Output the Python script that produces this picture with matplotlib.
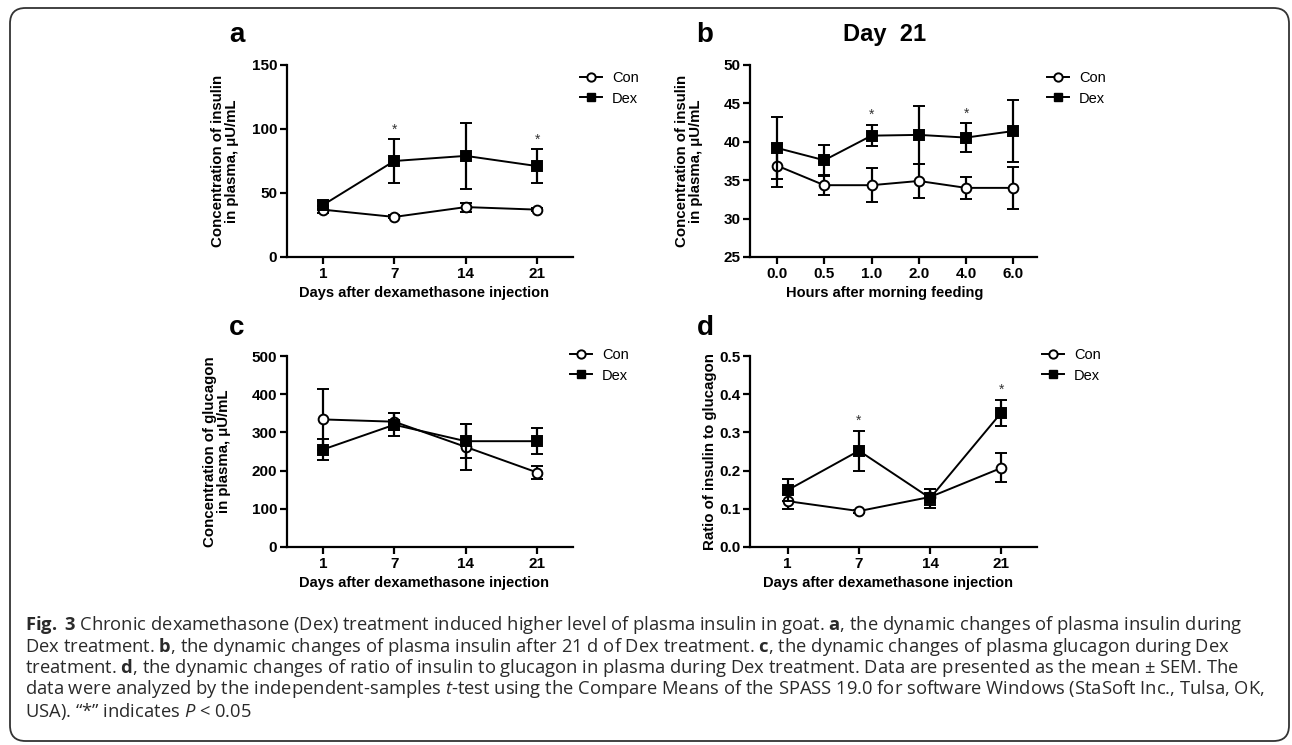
import matplotlib
matplotlib.use("Agg")
import matplotlib.pyplot as plt
from matplotlib.patches import FancyBboxPatch
from matplotlib.lines import Line2D
import numpy as np

plt.rcParams["font.family"] = ["Liberation Sans", "DejaVu Sans"]
plt.rcParams["mathtext.fontset"] = "custom"
plt.rcParams["mathtext.rm"] = "Open Sans"
plt.rcParams["mathtext.bf"] = "Open Sans:bold"
plt.rcParams["mathtext.it"] = "Open Sans:italic"

# ---- data ----
days = ["1", "7", "14", "21"]
hours = ["0.0", "0.5", "1.0", "2.0", "4.0", "6.0"]

ins_con = [37, 31.3, 39, 37]
ins_con_err = [2.5, 1.2, 3.5, 1.2]
ins_dex = [40.5, 75, 79, 71]
ins_dex_err = [3, 17, 26, 13]
ins_sig = [1, 3]

d21_con = [36.9, 34.35, 34.35, 34.9, 34.0, 34.0]
d21_con_err = [2.8, 1.3, 2.25, 2.2, 1.4, 2.75]
d21_dex = [39.2, 37.6, 40.8, 40.9, 40.55, 41.4]
d21_dex_err = [4.0, 2.0, 1.4, 3.75, 1.85, 4.0]
d21_sig = [2, 4]

glu_con = [334, 328, 262, 195]
glu_con_err = [79, 22, 60, 17]
glu_dex = [255, 320, 277, 277]
glu_dex_err = [27, 30, 44, 34]
glu_sig = []

ratio_con = [0.12, 0.094, 0.131, 0.207]
ratio_con_err = [0.02, 0.004, 0.02, 0.038]
ratio_dex = [0.149, 0.252, 0.128, 0.352]
ratio_dex_err = [0.029, 0.052, 0.025, 0.034]
ratio_sig = [1, 3]

caption = [
    r"$\mathbf{Fig.}$ $\mathbf{3}$ Chronic dexamethasone (Dex) treatment induced higher level of plasma insulin in goat. "
    r"$\mathbf{a}$, the dynamic changes of plasma insulin during",
    r"Dex treatment. $\mathbf{b}$, the dynamic changes of plasma insulin after 21 d of Dex treatment. "
    r"$\mathbf{c}$, the dynamic changes of plasma glucagon during Dex",
    r"treatment. $\mathbf{d}$, the dynamic changes of ratio of insulin to glucagon in plasma during Dex "
    r"treatment. Data are presented as the mean ± SEM. The",
    r"data were analyzed by the independent-samples $\mathit{t}$-test using the Compare Means of the "
    r"SPASS 19.0 for software Windows (StaSoft Inc., Tulsa, OK,",
    r"USA). “*” indicates $\mathit{P}$ < 0.05",
]

W, H = 1292, 745
fig = plt.figure(figsize=(W / 100, H / 100), dpi=100)


def px_axes(left, top, right, bottom):
    return fig.add_axes([left / W, 1 - bottom / H, (right - left) / W, (bottom - top) / H])


def panel(ax, labels, con, con_err, dex, dex_err, sig, ylim, yticks, yfmt,
          ylabel, xlabel, ylab_x, xlim, leg_xy):
    x = np.arange(len(labels))
    eb = dict(capsize=4, elinewidth=1.6, capthick=1.6, lw=1.4, color="black",
              markersize=7, markeredgewidth=1.4)
    ax.errorbar(x, con, yerr=con_err, fmt="-o", markerfacecolor="white",
                markeredgecolor="black", zorder=3, **eb)
    ax.errorbar(x, dex, yerr=dex_err, fmt="-s", markerfacecolor="black",
                markeredgecolor="black", zorder=4, **eb)
    for i in sig:
        ax.annotate("*", (x[i], dex[i] + dex_err[i]), xytext=(0, 2),
                    textcoords="offset points", ha="center", va="bottom",
                    fontsize=10, color="#333333")
    ax.set_xlim(*xlim)
    ax.set_ylim(*ylim)
    ax.set_xticks(x)
    ax.set_xticklabels(labels)
    ax.set_yticks(yticks)
    ax.set_yticklabels([yfmt.format(v) for v in yticks])
    for s in ("top", "right"):
        ax.spines[s].set_visible(False)
    for s in ("left", "bottom"):
        ax.spines[s].set_linewidth(1.6)
    ax.tick_params(width=1.6, length=5, labelsize=11, pad=2)
    for t in ax.get_xticklabels() + ax.get_yticklabels():
        t.set_fontweight("bold")
    ax.set_ylabel(ylabel, fontsize=10.8, fontweight="bold", va="center",
                  linespacing=1.05)
    ax.yaxis.set_label_coords(ylab_x, 0.5)
    ax.set_xlabel(xlabel, fontsize=10.5, fontweight="bold", va="center")
    ax.xaxis.set_label_coords(0.48, -0.188)
    handles = [
        Line2D([], [], color="black", lw=1.4, marker="o", markersize=6,
               markerfacecolor="white", markeredgewidth=1.4),
        Line2D([], [], color="black", lw=1.4, marker="s", markersize=6,
               markerfacecolor="black"),
    ]
    ax.legend(handles, ["Con", "Dex"], loc="upper left",
              bbox_to_anchor=(leg_xy[0] / W, 1 - leg_xy[1] / H),
              bbox_transform=fig.transFigure, frameon=False, fontsize=10.5,
              handlelength=1.5, handletextpad=0.7, labelspacing=0.45,
              borderpad=0, borderaxespad=0)


ax_a = px_axes(287, 65, 573, 257)
panel(ax_a, days, ins_con, ins_con_err, ins_dex, ins_dex_err, ins_sig,
      (0, 150), [0, 50, 100, 150], "{:g}",
      "Concentration of insulin\nin plasma, μU/mL",
      "Days after dexamethasone injection", -0.217, (-0.5, 3.5), (580, 71))

ax_b = px_axes(750, 65, 1037, 257)
panel(ax_b, hours, d21_con, d21_con_err, d21_dex, d21_dex_err, d21_sig,
      (25, 50), [25, 30, 35, 40, 45, 50], "{:g}",
      "Concentration of insulin\nin plasma, μU/mL",
      "Hours after morning feeding", -0.213, (-0.57, 5.5), (1047, 71))
ax_b.xaxis.set_label_coords(0.47, -0.188)

ax_c = px_axes(287, 356, 573, 547)
panel(ax_c, days, glu_con, glu_con_err, glu_dex, glu_dex_err, glu_sig,
      (0, 500), [0, 100, 200, 300, 400, 500], "{:g}",
      "Concentration of glucagon\nin plasma, μU/mL",
      "Days after dexamethasone injection", -0.245, (-0.5, 3.5), (570, 348))

ax_d = px_axes(750, 356, 1037, 547)
panel(ax_d, days, ratio_con, ratio_con_err, ratio_dex, ratio_dex_err, ratio_sig,
      (0, 0.5), [0.0, 0.1, 0.2, 0.3, 0.4, 0.5], "{:.1f}",
      "Ratio of insulin to glucagon",
      "Days after dexamethasone injection", -0.139, (-0.53, 3.5), (1042, 348))

# panel letters and title
for letter, (lx, ly) in zip("abcd", [(237, 35), (705, 35), (237, 328), (705, 328)]):
    fig.text(lx / W, 1 - ly / H, letter, fontsize=20, fontweight="bold",
             ha="center", va="center")
fig.text(885 / W, 1 - 35 / H, "Day  21", fontsize=17, fontweight="bold",
         ha="center", va="center")

# caption
for i, line in enumerate(caption):
    fig.text(25 / W, 1 - (625 + i * 21.5) / H, line, fontsize=13.2,
             family="Open Sans", ha="left", va="center", color="#2a2a2a")

# rounded border
box = FancyBboxPatch((10 / W, 4 / H), 1279 / W, 733 / H,
                     boxstyle="round,pad=0,rounding_size=0.012",
                     transform=fig.transFigure, fill=False,
                     edgecolor="#333333", lw=1.3, mutation_aspect=W / H)
fig.patches.append(box)

fig.savefig("out.png", dpi=100)
